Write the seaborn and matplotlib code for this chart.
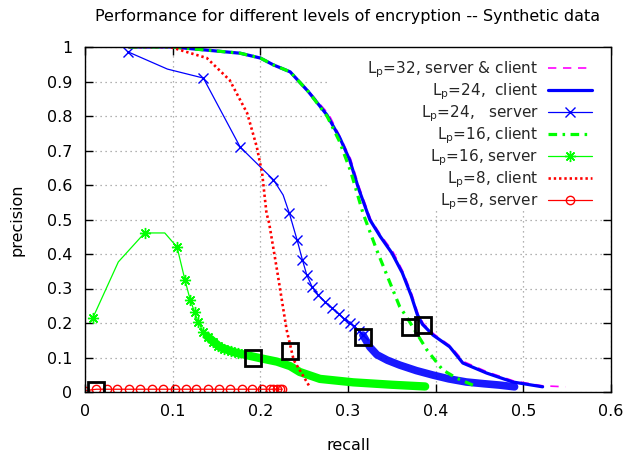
import numpy as np
import pandas as pd
import matplotlib
matplotlib.use("Agg")
import matplotlib.pyplot as plt
import seaborn as sns
from matplotlib.patches import Rectangle

sns.set_theme(style="ticks")
plt.rcParams['font.family'] = ['DejaVu Sans']
plt.rcParams['mathtext.fontset'] = 'dejavusans'

# ---------------- data ----------------
title = "Performance for different levels of encryption -- Synthetic data"
x_ticks = [0, 0.1, 0.2, 0.3, 0.4, 0.5, 0.6]
y_ticks = [0, 0.1, 0.2, 0.3, 0.4, 0.5, 0.6, 0.7, 0.8, 0.9, 1]

lp32_recall = [0.05, 0.10, 0.143, 0.177, 0.20, 0.215, 0.234, 0.255, 0.278, 0.292, 0.303,
               0.313, 0.326, 0.338, 0.351, 0.363, 0.373, 0.380, 0.386, 0.398, 0.417,
               0.432, 0.459, 0.489, 0.522, 0.548]
lp32_precision = [1.0, 1.0, 0.99, 0.982, 0.968, 0.948, 0.928, 0.872, 0.805, 0.735, 0.675,
                  0.592, 0.50, 0.452, 0.408, 0.347, 0.282, 0.226, 0.198, 0.168, 0.133,
                  0.088, 0.058, 0.032, 0.018, 0.015]

lp24c_recall = [0.05, 0.10, 0.143, 0.177, 0.20, 0.215, 0.234, 0.255, 0.276, 0.291, 0.302,
                0.312, 0.325, 0.337, 0.350, 0.362, 0.372, 0.379, 0.385, 0.397, 0.416,
                0.431, 0.458, 0.488, 0.522]
lp24c_precision = [1.0, 1.0, 0.99, 0.982, 0.968, 0.948, 0.928, 0.870, 0.803, 0.735, 0.672,
                   0.590, 0.499, 0.450, 0.403, 0.345, 0.280, 0.225, 0.196, 0.165, 0.131,
                   0.084, 0.055, 0.029, 0.015]

lp24s_recall = [0.049, 0.094, 0.135, 0.177, 0.215, 0.226, 0.233, 0.242, 0.248, 0.253, 0.259,
                0.266, 0.274, 0.282, 0.290, 0.296, 0.302, 0.307, 0.312, 0.317]
lp24s_precision = [0.986, 0.936, 0.910, 0.710, 0.615, 0.571, 0.519, 0.440, 0.383, 0.339, 0.305,
                   0.281, 0.261, 0.243, 0.225, 0.212, 0.200, 0.190, 0.178, 0.165]
lp24s_marked = [0, 2, 3, 4, 6, 7, 8, 9, 10, 11, 12, 13, 14, 15, 16, 17, 18, 19]
lp24s_tail_recall = [0.317, 0.325, 0.333, 0.345, 0.359, 0.378, 0.397, 0.415, 0.435, 0.455,
                     0.473, 0.490]
lp24s_tail_precision = [0.165, 0.130, 0.108, 0.092, 0.078, 0.062, 0.049, 0.038, 0.029, 0.024,
                        0.020, 0.015]

lp16c_recall = [0.05, 0.10, 0.143, 0.177, 0.20, 0.215, 0.234, 0.255, 0.276, 0.290, 0.303,
                0.317, 0.333, 0.348, 0.359, 0.367, 0.374, 0.390, 0.408, 0.424, 0.447]
lp16c_precision = [1.0, 1.0, 0.99, 0.982, 0.968, 0.948, 0.928, 0.870, 0.800, 0.728, 0.640,
                   0.519, 0.410, 0.316, 0.247, 0.217, 0.188, 0.122, 0.064, 0.040, 0.015]

lp16s_recall = [0.009, 0.038, 0.068, 0.091, 0.105, 0.114, 0.120, 0.125, 0.129, 0.135, 0.140,
                0.146, 0.152, 0.159, 0.166, 0.174]
lp16s_precision = [0.215, 0.377, 0.461, 0.461, 0.420, 0.325, 0.267, 0.232, 0.203, 0.174, 0.160,
                   0.145, 0.134, 0.125, 0.118, 0.113]
lp16s_marked = [0, 2, 4, 5, 6, 7, 8, 9, 10, 11, 12, 13, 14, 15]
lp16s_tail_recall = [0.140, 0.154, 0.169, 0.184, 0.200, 0.219, 0.234, 0.245, 0.268, 0.306,
                     0.350, 0.388]
lp16s_tail_precision = [0.160, 0.130, 0.116, 0.107, 0.098, 0.088, 0.075, 0.058, 0.038, 0.028,
                        0.021, 0.016]

lp8c_recall = [0.05, 0.097, 0.139, 0.165, 0.185, 0.196, 0.202, 0.207, 0.210, 0.219, 0.230,
               0.238, 0.257]
lp8c_precision = [1.0, 1.0, 0.968, 0.904, 0.808, 0.710, 0.635, 0.519, 0.490, 0.354, 0.180,
                  0.093, 0.012]

lp8s_recall = [0.0, 0.013, 0.025, 0.037, 0.050, 0.063, 0.076, 0.089, 0.103, 0.115, 0.127,
               0.140, 0.153, 0.165, 0.179, 0.191, 0.202, 0.211, 0.215, 0.219, 0.222, 0.225]
lp8s_precision = [0.004, 0.008, 0.008, 0.008, 0.008, 0.008, 0.008, 0.008, 0.008, 0.008, 0.008,
                  0.008, 0.008, 0.008, 0.008, 0.008, 0.008, 0.008, 0.008, 0.008, 0.008, 0.008]

box_recall = [0.012, 0.192, 0.234, 0.317, 0.371, 0.385]
box_precision = [0.007, 0.099, 0.119, 0.160, 0.188, 0.194]

labels = ["L$_\\mathrm{p}$=32, server & client",
          "L$_\\mathrm{p}$=24,  client",
          "L$_\\mathrm{p}$=24,   server",
          "L$_\\mathrm{p}$=16, client",
          "L$_\\mathrm{p}$=16, server",
          "L$_\\mathrm{p}$=8, client",
          "L$_\\mathrm{p}$=8, server"]

MAG, BLUE, GREEN, RED = "#ff00ff", "#0000ff", "#00ff00", "#ff0000"

# ---------------- figure ----------------
fig = plt.figure(figsize=(6.29, 4.59), dpi=100)
ax = fig.add_axes([85 / 629, 1 - 392 / 459, 526 / 629, 345 / 459])

common = dict(ax=ax, sort=False, estimator=None)

sns.lineplot(x=lp32_recall, y=lp32_precision, color=MAG, lw=1.2,
             ls=(0, (5, 4)), label=labels[0], zorder=2, **common)
sns.lineplot(x=lp24c_recall, y=lp24c_precision, color=BLUE, lw=2.3,
             label=labels[1], zorder=2.1, **common)
sns.lineplot(x=lp24s_tail_recall, y=lp24s_tail_precision, color=BLUE, lw=5.5,
             alpha=0.9, solid_capstyle="round", label="_tail24", zorder=2.2, **common)
sns.lineplot(x=lp24s_recall, y=lp24s_precision, color=BLUE, lw=0.9,
             marker="x", markersize=7, mec=BLUE, mew=1.0, markevery=lp24s_marked,
             label=labels[2], zorder=2.2, **common)
sns.lineplot(x=lp16c_recall, y=lp16c_precision, color=GREEN, lw=2.3,
             ls=(0, (2.7, 1.7, 0.8, 1.7)), label=labels[3], zorder=2.3, **common)
sns.lineplot(x=lp16s_tail_recall, y=lp16s_tail_precision, color=GREEN, lw=6,
             solid_capstyle="round", label="_tail16", zorder=2.4, **common)
sns.lineplot(x=lp16s_recall, y=lp16s_precision, color=GREEN, lw=0.9,
             marker=(8, 2, 0), markersize=8, mec=GREEN, mew=1.0, markevery=lp16s_marked,
             label=labels[4], zorder=2.4, **common)
sns.lineplot(x=lp8c_recall, y=lp8c_precision, color=RED, lw=1.9,
             ls=(0, (0.9, 1.1)), label=labels[5], zorder=2.5, **common)
sns.lineplot(x=lp8s_recall, y=lp8s_precision, color=RED, lw=0.9,
             marker="o", markersize=6, mfc="none", mec=RED, mew=1.0,
             label=labels[6], zorder=2.6, **common)
sns.lineplot(x=box_recall, y=box_precision, color="black", ls="none",
             marker="s", markersize=11, mfc="none", mec="black", mew=2.0,
             label="_boxes", zorder=3, **common)

ax.set_xlim(0, 0.6)
ax.set_ylim(0, 1)
ax.set_xticks(x_ticks)
ax.set_xticklabels([f"{v:g}" for v in x_ticks])
ax.set_yticks(y_ticks)
ax.set_yticklabels([f"{v:g}" for v in y_ticks])
ax.tick_params(direction="in", top=True, right=True, length=6, width=1,
               labelsize=11.5, pad=9, color="black", labelcolor="black")
for s in ax.spines.values():
    s.set_color("black")
    s.set_linewidth(1.0)
    s.set_zorder(4)
ax.set_axisbelow(True)
ax.grid(True, ls=(0, (1, 3)), color="#999999", lw=0.9)
ax.set_facecolor("white")

# opaque key area (hides the grid behind the key, as in the reference)
ax.add_patch(Rectangle(((327 - 85) / 526, (392 - 210) / 345), 1 - (327 - 85) / 526,
                       210 / 345, transform=ax.transAxes, facecolor="white",
                       edgecolor="none", zorder=1))

handles, labs = ax.get_legend_handles_labels()
keep = [(h, l) for h, l in zip(handles, labs) if not l.startswith("_")]
leg = ax.legend([h for h, _ in keep], [l for _, l in keep], loc="upper right",
                bbox_to_anchor=((592 - 85) / 526, (392 - 59) / 345),
                markerfirst=False, frameon=False, fontsize=11, handlelength=2.9,
                handletextpad=0.6, labelspacing=0.1, borderpad=0, borderaxespad=0)
leg.set_zorder(5)

ax.set_title(title, fontsize=11.5, pad=19, color="black")
ax.set_xlabel("recall", fontsize=11.5, labelpad=13, color="black")
ax.set_ylabel("precision", fontsize=11.5, labelpad=16, color="black")

fig.savefig("out.png", dpi=100)
